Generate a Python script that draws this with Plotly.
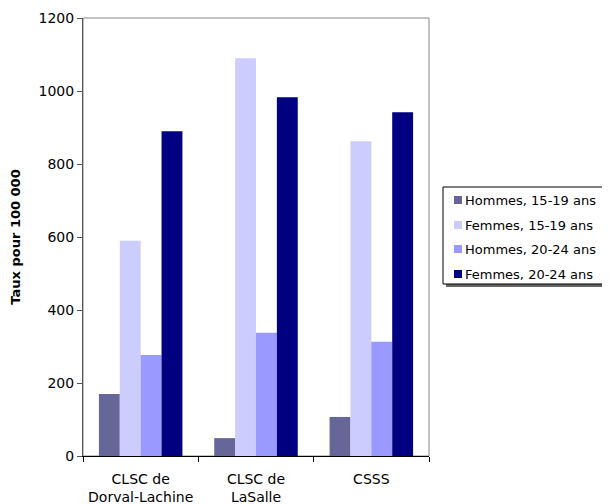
import plotly.graph_objects as go

categories = ["CLSC de<br>Dorval-Lachine", "CLSC de<br>LaSalle", "CSSS"]
series_names = ["Hommes, 15-19 ans", "Femmes, 15-19 ans", "Hommes, 20-24 ans", "Femmes, 20-24 ans"]
hommes_15_19 = [170, 49, 107]
femmes_15_19 = [590, 1090, 862]
hommes_20_24 = [277, 338, 313]
femmes_20_24 = [890, 983, 942]
colors = ["#666699", "#CCCCFF", "#9999FF", "#000080"]
y_ticks = [0, 200, 400, 600, 800, 1000, 1200]

fig = go.Figure()
for i, (name, vals) in enumerate(zip(series_names, [hommes_15_19, femmes_15_19, hommes_20_24, femmes_20_24])):
    fig.add_trace(go.Bar(x=categories, y=vals, name=name, marker_color=colors[i],
                         marker_line_width=0, showlegend=False))

font = "DejaVu Sans, Arial, sans-serif"
W, H = 602, 496
L, R, T, B = 75, 181, 10, 48
pw, ph = W - L - R, H - T - B
OFF = 8  # page body offset


def px_x(x):
    return (x - OFF - L) / pw


def px_y(y):
    return (H - B - (y - OFF)) / ph


# plot-area frame (gray top/right border)
fig.add_shape(type="rect", xref="paper", yref="paper", x0=0, y0=0, x1=1, y1=1,
              line=dict(color="#888888", width=1), layer="below")

# custom legend: shadow, box, swatches, labels
box_l, box_t, box_r, box_b = 443, 187, 640, 284
fig.add_shape(type="rect", xref="paper", yref="paper",
              x0=px_x(box_l + 3), x1=px_x(box_r + 3), y0=px_y(box_b + 3), y1=px_y(box_t + 3),
              line=dict(width=0), fillcolor="#666666", layer="above")
fig.add_shape(type="rect", xref="paper", yref="paper",
              x0=px_x(box_l), x1=px_x(box_r), y0=px_y(box_b), y1=px_y(box_t),
              line=dict(color="black", width=1), fillcolor="white", layer="above")
row_y = [200, 225, 249, 274]
for name, col, ry in zip(series_names, colors, row_y):
    fig.add_shape(type="rect", xref="paper", yref="paper",
                  x0=px_x(454), x1=px_x(462), y0=px_y(ry + 4), y1=px_y(ry - 4),
                  line=dict(width=0), fillcolor=col, layer="above")
    fig.add_annotation(x=px_x(463), y=px_y(ry), xref="paper", yref="paper",
                       text=name, showarrow=False, xanchor="left", yanchor="middle",
                       font=dict(family=font, size=13, color="black"))

fig.update_layout(
    width=W, height=H,
    margin=dict(l=L, r=R, t=T, b=B, autoexpand=False),
    plot_bgcolor="white", paper_bgcolor="white",
    barmode="group", bargap=0.276, bargroupgap=0,
    font=dict(family=font, size=14, color="black"),
    showlegend=False,
    yaxis=dict(range=[0, 1200], tickvals=y_ticks, showgrid=False, zeroline=False,
               showline=True, linecolor="#555555", linewidth=1,
               ticks="outside", ticklen=5, tickcolor="#555555",
               automargin=False,
               title=dict(text="<b>Taux pour 100 000</b>", font=dict(size=13), standoff=16),
               tickfont=dict(size=14)),
    xaxis=dict(showgrid=False, showline=True, linecolor="black", linewidth=1,
               ticks="outside", ticklen=5, tickson="boundaries", tickcolor="black",
               automargin=False, tickfont=dict(size=14), ticklabelstandoff=10),
)
fig.write_html("out.html")
